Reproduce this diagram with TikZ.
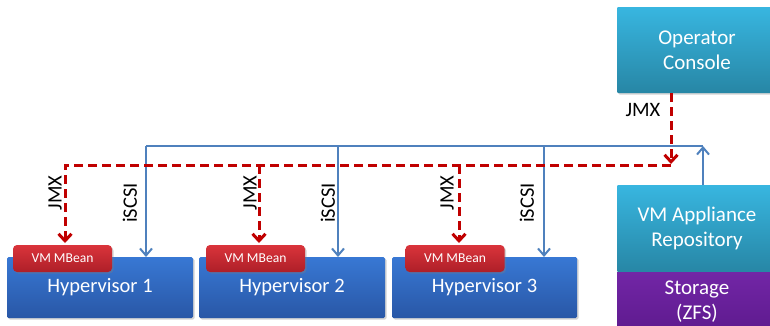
\documentclass[tikz,border=0pt]{standalone}
\usepackage{fontspec}
\setmainfont{Carlito}
\usetikzlibrary{arrows.meta,shadows}

\definecolor{hypTop}{HTML}{3878D4}
\definecolor{hypBot}{HTML}{2957A6}
\definecolor{mbTop}{HTML}{DA343B}
\definecolor{mbBot}{HTML}{AE1F28}
\definecolor{cyTop}{HTML}{38B6E0}
\definecolor{cyBot}{HTML}{2786A5}
\definecolor{purTop}{HTML}{7226A6}
\definecolor{purBot}{HTML}{5E1A8E}
\definecolor{wire}{HTML}{4F81BD}
\definecolor{jmxred}{HTML}{C00000}

\begin{document}
\begin{tikzpicture}[x=1pt,y=-1pt,
  panel/.style={rectangle, inner sep=0pt, outer sep=0pt, text=white,
    align=center, shading=axis, shading angle=0,
    drop shadow={shadow xshift=1.5pt, shadow yshift=-1.5pt, opacity=0.35}},
  hyper/.style={panel, top color=hypTop, bottom color=hypBot,
    minimum width=186pt, minimum height=61pt, rounded corners=1.5pt,
    font=\fontsize{20.5}{24}\selectfont},
  mbean/.style={panel, top color=mbTop, bottom color=mbBot,
    minimum width=99pt, minimum height=27pt, rounded corners=4pt,
    font=\fontsize{13.6}{16}\selectfont},
  cyanbox/.style={panel, top color=cyTop, bottom color=cyBot,
    minimum width=160pt, rounded corners=1pt,
    font=\fontsize{21}{25}\selectfont},
  storebox/.style={panel, top color=purTop, bottom color=purBot,
    minimum width=160pt, minimum height=60pt,
    font=\fontsize{21}{25}\selectfont},
  iscsi/.style={draw=wire, line width=2pt},
  iscsiarrow/.style={iscsi, -{Straight Barb[length=7pt,width=12pt,line width=2pt]}},
  jmx/.style={draw=jmxred, line width=3pt, dash pattern=on 9pt off 5pt},
  jmxarrow/.style={jmx, -{Straight Barb[length=7pt,width=13pt,line width=3pt]}},
  tag/.style={font=\fontsize{20.5}{24}\selectfont, inner sep=0pt}
]
\clip (0,0) rectangle (770,325);

% hypervisors with their management beans
\node[hyper] (hyp1) at (100,287.5) {\raisebox{-3pt}{Hypervisor 1}};
\node[hyper] (hyp2) at (292,287.5) {\raisebox{-3pt}{Hypervisor 2}};
\node[hyper, minimum width=185pt] (hyp3) at (484.5,287.5) {\raisebox{-3pt}{Hypervisor 3}};
\node[mbean] (mb1) at (62.5,258.5) {VM MBean};
\node[mbean] (mb2) at (255.5,258.5) {VM MBean};
\node[mbean] (mb3) at (455,258.5) {VM MBean};

% console and repository on the right
\node[cyanbox, minimum height=86pt] (console) at (697,50) {Operator\\Console};
\node[cyanbox, minimum height=87pt] (repo) at (697,228.5) {VM Appliance\\Repository};
\node[storebox] (store) at (697,302) {Storage\\(ZFS)};

% iSCSI distribution from the repository
\coordinate (bj) at (703,146);
\coordinate (b1) at (146,146);
\coordinate (b2) at (338,146);
\coordinate (b3) at (544,146);
\draw[iscsiarrow] (repo.north -| bj) -- (bj);
\draw[iscsi] (bj) -- (b1);
\draw[iscsiarrow] (b1) -- (b1 |- hyp1.north);
\draw[iscsiarrow] (b2) -- (b2 |- hyp2.north);
\draw[iscsiarrow] (b3) -- (b3 |- hyp3.north);

% JMX management from the console
\coordinate (rj) at (671,165);
\coordinate (r1) at (65,165);
\coordinate (r2) at (259,165);
\coordinate (r3) at (459,165);
\draw[jmxarrow] (console.south -| rj) -- ([yshift=1pt]rj);
\draw[jmxarrow, shorten >=2pt] (rj) -- (r1) -- (r1 |- mb1.north);
\draw[jmxarrow, shorten >=2pt] (r2) -- (r2 |- mb2.north);
\draw[jmxarrow, shorten >=2pt] (r3) -- (r3 |- mb3.north);

% link labels
\node[tag] (jc) at (643,110) {JMX};
\node[tag, rotate=90] (j1) at (55,193) {JMX};
\node[tag, rotate=90] (j2) at (250,193) {JMX};
\node[tag, rotate=90] (j3) at (447,193) {JMX};
\node[tag, rotate=90] (s1) at (130,203) {iSCSI};
\node[tag, rotate=90] (s2) at (328,203) {iSCSI};
\node[tag, rotate=90] (s3) at (527,203) {iSCSI};
\end{tikzpicture}
\end{document}
